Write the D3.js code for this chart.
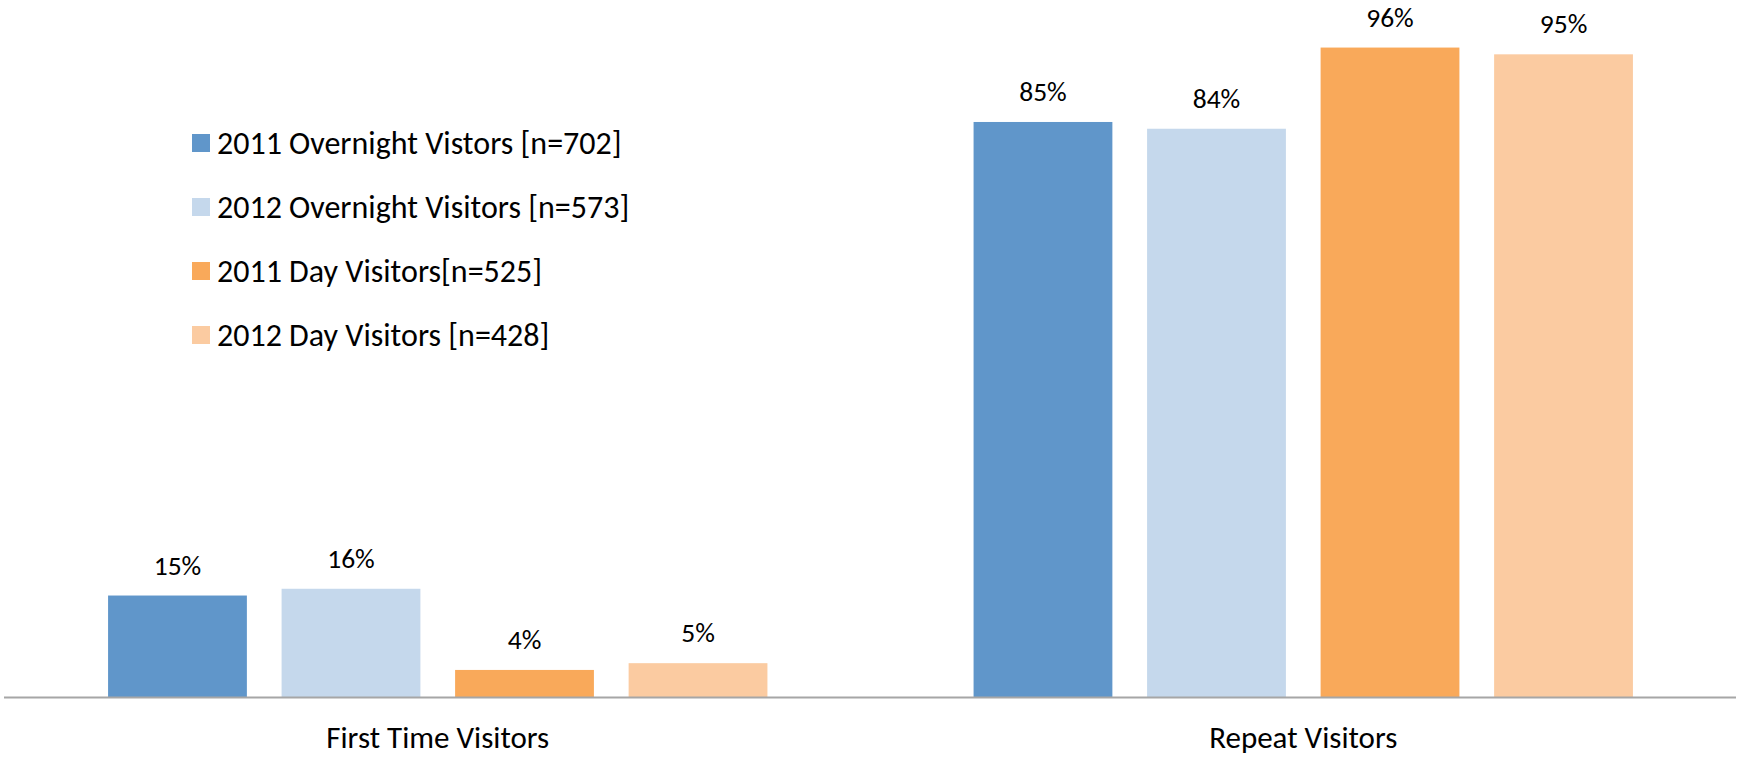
<!DOCTYPE html>
<html>
<head>
<meta charset="utf-8">
<script src="https://cdn.jsdelivr.net/npm/d3@7"></script>
<style>
  html, body { margin: 0; padding: 0; background: #ffffff; }
  svg { display: block; font-family: Carlito, Calibri, Lato, sans-serif; }
</style>
</head>
<body>
<svg id="chart" width="1739" height="757"></svg>
<script>
// Visitor type share by survey group
const categories = ["First Time Visitors", "Repeat Visitors"];
const seriesNames = [
  "2011 Overnight Vistors [n=702]",
  "2012 Overnight Visitors [n=573]",
  "2011 Day Visitors[n=525]",
  "2012 Day Visitors [n=428]"
];
const seriesColors = ["#6096CA", "#C5D8EC", "#F9A95A", "#FBCBA1"];
const overnight2011 = [15, 85];
const overnight2012 = [16, 84];
const day2011 = [4, 96];
const day2012 = [5, 95];
const seriesValues = [overnight2011, overnight2012, day2011, day2012];

const svg = d3.select("#chart");

const x0 = d3.scaleBand().domain(categories).range([5, 1736]).padding(0);
const x1 = d3.scaleBand()
  .domain(d3.range(seriesNames.length))
  .range([0, x0.bandwidth()])
  .paddingInner(0.2)
  .paddingOuter(0.594);
const y = d3.scaleLinear().domain([0, 100]).range([697, 20.5]);

// bars
const groups = svg.append("g").selectAll("g")
  .data(categories)
  .join("g")
  .attr("transform", d => `translate(${x0(d)},0)`);

groups.selectAll("rect")
  .data((c, ci) => seriesValues.map((vals, si) => ({ si, v: vals[ci] })))
  .join("rect")
  .attr("x", d => x1(d.si))
  .attr("width", x1.bandwidth())
  .attr("y", d => y(d.v))
  .attr("height", d => y(0) - y(d.v))
  .attr("fill", d => seriesColors[d.si]);

// value labels
groups.selectAll("text")
  .data((c, ci) => seriesValues.map((vals, si) => ({ si, v: vals[ci] })))
  .join("text")
  .attr("x", d => x1(d.si) + x1.bandwidth() / 2)
  .attr("y", d => y(d.v) - 21)
  .attr("text-anchor", "middle")
  .attr("font-size", 27.5)
  .attr("fill", "#000")
  .text(d => d.v + "%");

// category axis
const axis = svg.append("g").attr("transform", `translate(0,${y(0)})`);
axis.append("line")
  .attr("x1", 4).attr("x2", 1736)
  .attr("y1", 0.5).attr("y2", 0.5)
  .attr("stroke", "#A6A6A6").attr("stroke-width", 2);
axis.selectAll("text")
  .data(categories)
  .join("text")
  .attr("x", d => x0(d) + x0.bandwidth() / 2)
  .attr("y", 51)
  .attr("text-anchor", "middle")
  .attr("font-size", 31)
  .attr("fill", "#000")
  .text(d => d);

// legend
const legend = svg.append("g").attr("transform", "translate(192,134)");
const items = legend.selectAll("g")
  .data(seriesNames)
  .join("g")
  .attr("transform", (d, i) => `translate(0,${i * 64})`);
items.append("rect")
  .attr("width", 18).attr("height", 18)
  .attr("fill", (d, i) => seriesColors[i]);
items.append("text")
  .attr("x", 25)
  .attr("y", 20)
  .attr("font-size", 32)
  .attr("fill", "#000")
  .text(d => d);
</script>
</body>
</html>
